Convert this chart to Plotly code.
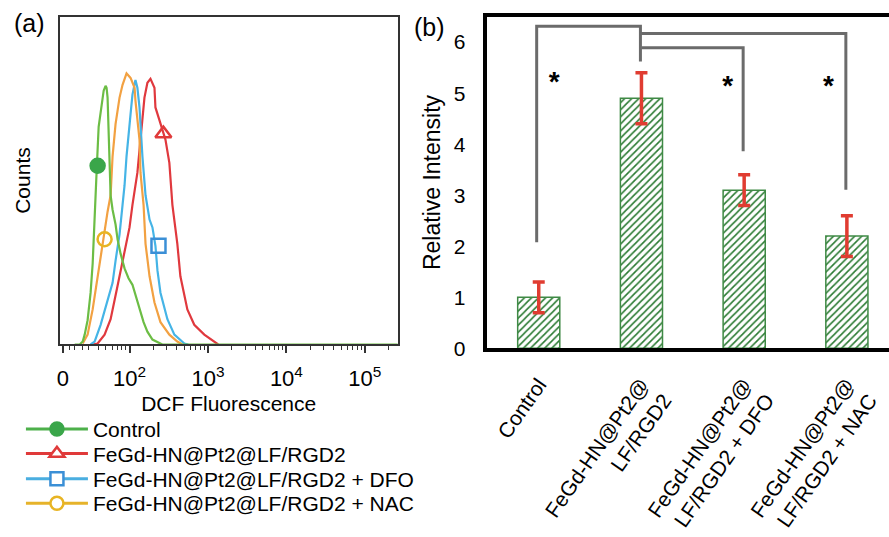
import plotly.graph_objects as go

# ---------------- Panel (a): flow cytometry histograms ----------------
ctrl_x = [20, 23.2, 25.3, 26.8, 29.2, 31.9, 33.9, 35.9, 38.1, 40.4, 44.1, 46.8, 49.5, 51.0, 52.5, 54.1,
          55.7, 57.4, 60.8, 66.4, 70.4, 76.9, 86.4, 97.1, 109, 119, 134, 151, 169, 196, 262, 300000]
ctrl_y = [0, 0, 0.9, 3.0, 7.4, 15.8, 24.7, 36.6, 53.0, 66.4, 73.8, 77.4, 78.9, 78.3, 75.3, 66.4,
          54.5, 45.5, 41.1, 36.6, 32.1, 27.7, 23.2, 20.2, 18.2, 15.2, 10.7, 6.8, 3.9, 1.5, 0, 0]

hn_x = [33.9, 39.2, 48.1, 57.4, 70.4, 86.4, 100, 109, 126, 138, 155, 169, 185, 208, 214, 240,
        287, 322, 352, 407, 445, 546, 669, 898, 1203, 1352]
hn_y = [0, 0.3, 3.0, 7.7, 17.9, 28.6, 35.7, 42.6, 52.4, 62.5, 75.3, 79.8, 81.0, 78.3, 72.3, 68.5,
        62.5, 55.4, 42.6, 30.7, 20.8, 10.7, 6.0, 3.0, 0.9, 0]

dfo_x = [31.9, 35.9, 42.8, 52.5, 60.8, 66.4, 74.6, 81.5, 86.4, 91.6, 97.1, 103, 109, 116, 119, 126,
         134, 146, 160, 180, 196, 214, 227, 248, 304, 373, 500, 562]
dfo_y = [0, 0.9, 6.0, 13.7, 18.8, 25.6, 33.6, 42.6, 48.5, 57.4, 64.9, 70.2, 76.2, 80.4, 80.7, 78.3,
         72.3, 57.4, 45.5, 38.1, 35.7, 30.1, 22.6, 15.8, 7.7, 3.0, 0.3, 0]

nac_x = [25.3, 29.2, 33.9, 39.2, 45.4, 52.5, 57.4, 60.8, 66.4, 74.6, 81.5, 91.6, 103, 116, 119, 126,
         134, 138, 151, 160, 180, 208, 248, 322, 407, 471]
nac_y = [0.3, 3.0, 10.7, 20.8, 30.7, 40.5, 45.5, 57.4, 67.3, 75.3, 79.2, 82.7, 81.3, 78.3, 74.4, 69.3,
         62.5, 52.4, 42.6, 30.7, 20.8, 12.8, 6.8, 3.0, 0.9, 0]

# marker labels on each curve (x, y)
mark_ctrl = (39.2, 54.5)
mark_hn = (270, 64.3)
mark_dfo = (234, 30.1)
mark_nac = (48.1, 32.1)

series_names = ["Control", "FeGd-HN@Pt2@LF/RGD2", "FeGd-HN@Pt2@LF/RGD2 + DFO", "FeGd-HN@Pt2@LF/RGD2 + NAC"]

a_tickvals = [14.1, 100, 1000, 10000, 100000]
a_ticktext = ["0", "10<sup>2</sup>", "10<sup>3</sup>", "10<sup>4</sup>", "10<sup>5</sup>"]
a_minor = [17, 20, 25, 30, 40, 50, 60, 70, 80, 90,
           200, 300, 400, 500, 600, 700, 800, 900,
           2000, 3000, 4000, 5000, 6000, 7000, 8000, 9000,
           20000, 30000, 40000, 50000, 60000, 70000, 80000, 90000, 200000]

# ---------------- Panel (b): relative intensity ----------------
b_categories = ["Control", "FeGd-HN@Pt2@<br>LF/RGD2", "FeGd-HN@Pt2@<br>LF/RGD2 + DFO", "FeGd-HN@Pt2@<br>LF/RGD2 + NAC"]
b_values = [1.0, 4.9, 3.1, 2.2]
b_errors = [0.3, 0.5, 0.3, 0.4]

# significance brackets: polylines (x, y) in data units
bracket1_x = [-0.02, -0.02, 0.99, 0.99]
bracket1_y = [2.08, 6.31, 6.31, 5.62]
bracket2_x = [0.99, 2.99, 2.99]
bracket2_y = [6.17, 6.17, 3.11]
bracket3_x = [1.0, 1.99, 1.99]
bracket3_y = [5.89, 5.89, 3.86]
star_x = [0.15, 1.84, 2.82]
star_y = [5.17, 5.1, 5.1]

FONT = "Liberation Sans, Arial, sans-serif"
W, H = 889, 537

c_green, c_red, c_blue, c_orange = "#6cbd45", "#e0393e", "#45b4e6", "#f2a142"
m_green, m_red, m_blue, m_yellow = "#3aa64a", "#e03a3a", "#3b8fd6", "#e8b423"

fig = go.Figure()

curves = [(ctrl_x, ctrl_y, c_green), (hn_x, hn_y, c_red), (dfo_x, dfo_y, c_blue), (nac_x, nac_y, c_orange)]
for idx in [1, 2, 3, 0]:
    xs, ys, col = curves[idx]
    fig.add_trace(go.Scatter(x=xs, y=ys, mode="lines", line=dict(color=col, width=2.2),
                             showlegend=False, xaxis="x", yaxis="y", hoverinfo="skip"))

marks = [
    (mark_ctrl, m_green, "circle"),
    (mark_hn, m_red, "triangle-up-open"),
    (mark_dfo, m_blue, "square-open"),
    (mark_nac, m_yellow, "circle-open"),
]
leg_cols = ["#4db04a", "#e03a3a", "#4aaee0", "#e6b32a"]
for (mx, my), col, sym in marks:
    fig.add_trace(go.Scatter(x=[mx], y=[my], mode="markers",
                             marker=dict(color=col, symbol=sym, size=14, line=dict(color=col, width=2.5)),
                             showlegend=False, xaxis="x", yaxis="y"))

legend_names = ["legend", "legend2", "legend3", "legend4"]
for i, ((mx, my), col, sym) in enumerate(marks):
    fig.add_trace(go.Scatter(x=[None], y=[None], mode="lines+markers", name=series_names[i],
                             line=dict(color=leg_cols[i], width=3),
                             marker=dict(color=(col if sym == "circle" else "white"), symbol=sym.replace("-open", ""),
                                         size=13, line=dict(color=col, width=2.5)),
                             showlegend=True, legend=legend_names[i], xaxis="x", yaxis="y"))

# panel (b) bars
fig.add_trace(go.Bar(x=list(range(len(b_values))), y=b_values, width=0.41,
                     marker=dict(color="#ffffff",
                                 pattern=dict(shape="/", fgcolor="#2a7a32", bgcolor="#ffffff", size=5,
                                              solidity=0.32, fgopacity=1),
                                 line=dict(color="#3f8a45", width=1.5)),
                     error_y=dict(type="data", array=b_errors, color="#e03c31", thickness=3.5, width=6),
                     showlegend=False, xaxis="x2", yaxis="y2"))

for bx, by in [(bracket1_x, bracket1_y), (bracket2_x, bracket2_y), (bracket3_x, bracket3_y)]:
    fig.add_trace(go.Scatter(x=bx, y=by, mode="lines", line=dict(color="#6b6b6b", width=3),
                             showlegend=False, xaxis="x2", yaxis="y2", hoverinfo="skip"))
fig.add_trace(go.Scatter(x=star_x, y=star_y, mode="text", text=["<b>*</b>"] * len(star_x),
                         textfont=dict(size=28, color="black", family=FONT),
                         showlegend=False, xaxis="x2", yaxis="y2"))

leg_centers = [429, 454, 480, 505]
legend_common = dict(xanchor="left", yanchor="top", font=dict(size=21, color="#000"), itemwidth=62,
                     tracegroupgap=0, bgcolor="rgba(0,0,0,0)")
legends = {}
for name, yc in zip(legend_names, leg_centers):
    legends[name] = dict(x=18 / W, y=1 - (yc - 10) / H, **legend_common)

fig.update_layout(
    width=W, height=H, margin=dict(l=0, r=0, t=0, b=0),
    paper_bgcolor="white", plot_bgcolor="white",
    font=dict(family=FONT, size=21, color="#000"),
    xaxis=dict(domain=[0.0641, 0.4454], type="log", range=[1.111, 5.418],
               tickvals=a_tickvals, ticktext=a_ticktext, ticks="outside", ticklen=7, tickwidth=1.5,
               tickcolor="#333", showgrid=False, zeroline=False,
               showline=True, linecolor="#333", linewidth=2, mirror=True,
               minor=dict(tickvals=a_minor, ticks="outside", ticklen=4, tickwidth=1, tickcolor="#333"),
               ticklabelstandoff=6,
               title=dict(text="DCF Fluorescence", standoff=6, font=dict(size=21)),
               tickfont=dict(size=22)),
    yaxis=dict(domain=[0.3426, 0.9683], range=[0, 100], showticklabels=False, ticks="",
               showgrid=False, zeroline=False, showline=True, linecolor="#333", linewidth=2, mirror=True,
               title=dict(text="Counts", standoff=21, font=dict(size=21))),
    xaxis2=dict(domain=[0.5467, 1.0], range=[-0.5, 3.41], tickvals=list(range(len(b_categories))),
                ticktext=b_categories, tickangle=-55, ticks="", showgrid=False, zeroline=False,
                showline=True, linecolor="black", linewidth=3.5, mirror=True, anchor="y2",
                ticklabelstandoff=12, tickfont=dict(size=21)),
    yaxis2=dict(domain=[0.3352, 0.9683], range=[0, 6.5], dtick=1, ticks="", showgrid=False, zeroline=False,
                showline=True, linecolor="black", linewidth=3.5, anchor="x2", ticklabelstandoff=14,
                tickfont=dict(size=21),
                title=dict(text="Relative Intensity", standoff=8, font=dict(size=23))),
    annotations=[
        dict(text="(a)", x=27 / W, y=1 - 24 / H, xref="paper", yref="paper", xanchor="center", yanchor="middle",
             showarrow=False, font=dict(size=25)),
        dict(text="(b)", x=428 / W, y=1 - 28 / H, xref="paper", yref="paper", xanchor="center", yanchor="middle",
             showarrow=False, font=dict(size=25)),
    ],
    **legends,
)

fig.write_html("out.html")
